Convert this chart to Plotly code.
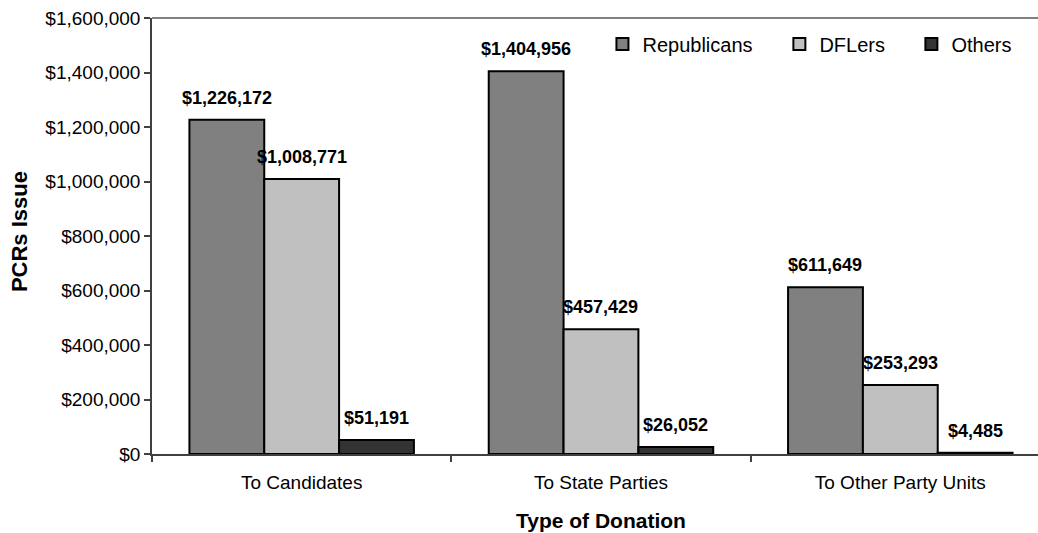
import plotly.graph_objects as go

categories = ["To Candidates", "To State Parties", "To Other Party Units"]
republicans = [1226172, 1404956, 611649]
dflers = [1008771, 457429, 253293]
others = [51191, 26052, 4485]

series = [
    ("Republicans", republicans, "#808080"),
    ("DFLers", dflers, "#C0C0C0"),
    ("Others", others, "#333333"),
]

FONT = "Liberation Sans, Arial, sans-serif"

X_RANGE = [-0.5, 2.46]
PLOT_W = 1038 - 152
BAR_FRAC = 0.25  # bar width as fraction of category (bargap 0.25, 3 bars)
bar_px = PLOT_W / (X_RANGE[1] - X_RANGE[0]) * BAR_FRAC

legend_names = ["legend", "legend2", "legend3"]
legend_x = [0.5084, 0.7081, 0.8571]

fig = go.Figure()
annotations = []
for i, (name, vals, color) in enumerate(series):
    fig.add_trace(go.Bar(
        name=name,
        x=categories,
        y=vals,
        marker=dict(color=color, line=dict(color="#000000", width=2)),
        legend=legend_names[i],
        showlegend=True,
    ))
    for cat, v in zip(categories, vals):
        annotations.append(dict(
            text=f"${v:,}", xref="x", yref="y", x=cat, y=v,
            xanchor="center", yanchor="bottom",
            xshift=(i - 1) * bar_px, yshift=10, showarrow=False,
            font=dict(family=FONT, size=18, color="#000000", weight="bold"),
        ))

annotations += [
    dict(text="Type of Donation", xref="x", yref="paper", x=1, y=0,
         xanchor="center", yanchor="top", yshift=-53, showarrow=False,
         font=dict(family=FONT, size=21, color="#000000", weight="bold")),
    dict(text="PCRs Issue", xref="paper", yref="paper", x=0, y=0.509,
         xshift=-133, xanchor="center", yanchor="middle", textangle=-90,
         showarrow=False,
         font=dict(family=FONT, size=22, color="#000000", weight="bold")),
]

legend_common = dict(
    orientation="h", y=0.985, xanchor="left", yanchor="top",
    font=dict(family=FONT, size=20, color="#000000"),
    bgcolor="rgba(0,0,0,0)",
)

fig.update_layout(
    width=1038,
    height=533,
    margin=dict(l=152, r=0, t=18, b=79),
    paper_bgcolor="white",
    plot_bgcolor="white",
    barmode="group",
    bargap=0.25,
    bargroupgap=0,
    font=dict(family=FONT, size=19, color="#000000"),
    showlegend=True,
    legend=dict(x=legend_x[0], **legend_common),
    legend2=dict(x=legend_x[1], **legend_common),
    legend3=dict(x=legend_x[2], **legend_common),
    xaxis=dict(
        type="category",
        range=X_RANGE,
        showline=True, linecolor="#404040", linewidth=1.5,
        ticks="outside", ticklen=6, tickcolor="#404040", tickwidth=1.5,
        tickson="boundaries",
        ticklabelstandoff=10,
        showgrid=False, zeroline=False,
        tickfont=dict(family=FONT, size=19, color="#000000"),
    ),
    yaxis=dict(
        range=[0, 1600000],
        dtick=200000,
        tickprefix="$",
        tickformat=",",
        showline=True, linecolor="#404040", linewidth=1.5,
        ticks="outside", ticklen=6, tickcolor="#404040", tickwidth=1.5,
        showgrid=False, zeroline=False,
        tickfont=dict(family=FONT, size=19, color="#000000"),
    ),
    shapes=[dict(type="line", xref="paper", yref="paper", x0=0, x1=1, y0=1, y1=1,
                 line=dict(color="#808080", width=2))],
    annotations=annotations,
)

fig.write_html("out.html")
